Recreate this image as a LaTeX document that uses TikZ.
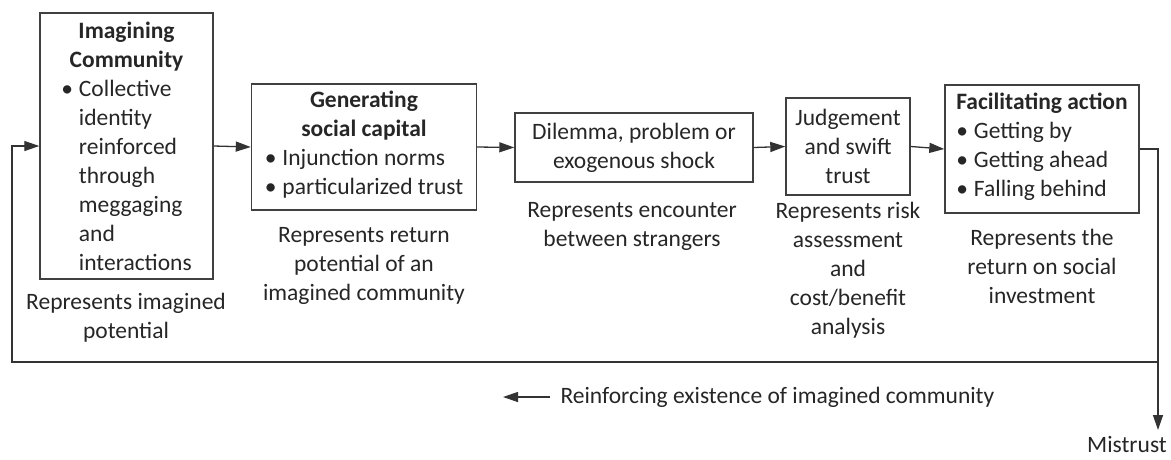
\documentclass[tikz,border=0pt]{standalone}
\usepackage{fontspec}
\setmainfont{Carlito}
\usetikzlibrary{positioning,arrows.meta}

\begin{document}
\begin{tikzpicture}[x=1pt,y=-1pt,>={Triangle[length=15pt,width=10pt]},
  font=\fontsize{23.5}{29}\selectfont,
  every node/.style={text=black!85},
  box/.style={draw=black!75,line width=1.4pt,inner sep=3pt},
  flow/.style={->,line width=1.3pt,draw=black!80}]
\useasboundingbox (0,0) rectangle (1171,459);
% the five stages
\node (imag) at (126.5,146) [box,minimum width=173,minimum height=266,align=center,text height=80pt,text depth=180pt]
  {\textbf{Imagining}\\\textbf{Community}\\
   \begin{tabular}[t]{@{}l@{\hspace{6pt}}l@{}}\textbullet&Collective\\&identity\\&reinforced\\&through\\&meggaging\\&and\\&interactions\end{tabular}};
\node (gen) at (364,147) [box,minimum width=225,minimum height=126,align=center]
  {\textbf{Generating}\\\textbf{social capital}\\
   \begin{tabular}[t]{@{}l@{\hspace{6pt}}l@{}}\textbullet&Injunction norms\\\textbullet&particularized trust\end{tabular}};
\node (dil) at (634,147.5) [box,minimum width=238,minimum height=69,align=center]
  {Dilemma, problem or\\exogenous shock};
\node (judge) at (848,146.5) [box,minimum width=124,minimum height=97,align=center]
  {Judgement\\and swift\\trust};
\node (fac) at (1042,149) [box,minimum width=194,minimum height=128,align=left]
  {\textbf{Facilitating action}\\
   \begin{tabular}[t]{@{}l@{\hspace{6pt}}l@{}}\textbullet&Getting by\\\textbullet&Getting ahead\\\textbullet&Falling behind\end{tabular}};
% what each stage represents
\node (imagtxt) at (126,318) [align=center] {Represents imagined\\potential};
\node (gentxt) at (364,266) [align=center] {Represents return\\potential of an\\imagined community};
\node (diltxt) at (632,226) [align=center] {Represents encounter\\between strangers};
\node (judgetxt) at (848,270) [align=center] {Represents risk\\assessment\\and\\cost/benefit\\analysis};
\node (factxt) at (1042,266) [align=center] {Represents the\\return on social\\investment};
\node (mistrust) at (1127,444) {Mistrust};
\node (reinf) [anchor=west] at (557,397) {Reinforcing existence of imagined community};
\coordinate (mistip) at (1158,430);
\coordinate (loopr) at (1158,362);
\coordinate (loopl) at (12,362);
\coordinate (reinftip) at (503,397);
% arrows
\draw[flow] (imag.east) -- (gen.west);
\draw[flow] (gen.east) -- (dil.west);
\draw[flow] (dil.east) -- (judge.west);
\draw[flow] (judge.east) -- (fac.west);
\draw[flow] (fac.east) -| (mistip);
\draw[flow] (loopr) -- (loopl) |- (imag.west);
\draw[flow,shorten <=7pt] (reinf.west |- reinftip) -- (reinftip);
\end{tikzpicture}
\end{document}
